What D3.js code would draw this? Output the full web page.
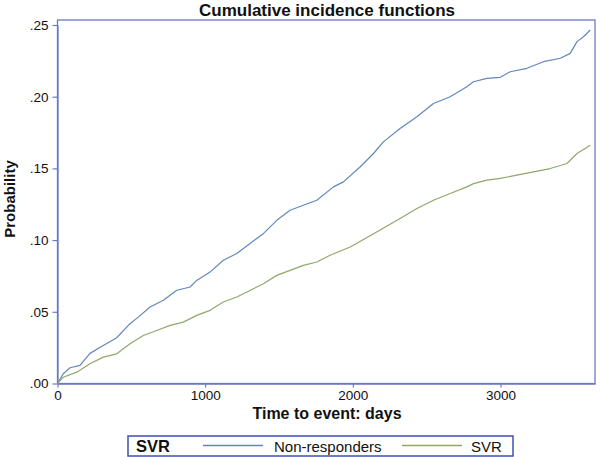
<!DOCTYPE html>
<html>
<head>
<meta charset="utf-8">
<script src="https://cdn.jsdelivr.net/npm/d3@7/dist/d3.min.js"></script>
<style>
  html, body { margin: 0; padding: 0; background: #fff; }
  svg { display: block; font-family: "Liberation Sans", Arial, sans-serif; }
</style>
</head>
<body>
<svg id="chart" width="600" height="457"></svg>
<script>
// ---- data ----
const titleText = "Cumulative incidence functions";
const xLabel = "Time to event: days";
const yLabel = "Probability";
const legendTitle = "SVR";
const seriesNames = ["Non-responders", "SVR"];
const xTicks = [0, 1000, 2000, 3000];
const yTicks = [0, 0.05, 0.10, 0.15, 0.20, 0.25];

const nonRespDays = [0, 39, 85, 152, 220, 310, 401, 491, 547, 627, 717, 808, 898, 943, 1033, 1123, 1214, 1304, 1394, 1485, 1575, 1665, 1756, 1869, 1936, 2049, 2140, 2207, 2320, 2434, 2546, 2659, 2772, 2817, 2908, 2998, 3066, 3179, 3291, 3405, 3472, 3518, 3562, 3608];
const nonRespProb = [0, 0.0068, 0.011, 0.0126, 0.021, 0.0265, 0.0319, 0.0417, 0.0463, 0.0533, 0.058, 0.065, 0.0673, 0.0719, 0.0777, 0.0859, 0.0906, 0.0976, 0.1045, 0.1138, 0.1208, 0.1243, 0.1278, 0.1371, 0.1406, 0.151, 0.1604, 0.1685, 0.1778, 0.186, 0.1953, 0.2, 0.207, 0.2104, 0.2128, 0.2135, 0.2174, 0.2198, 0.2244, 0.2268, 0.2302, 0.2384, 0.2418, 0.2465];

const svrDays = [0, 39, 130, 220, 310, 401, 491, 581, 672, 762, 852, 943, 1033, 1123, 1214, 1304, 1394, 1485, 1575, 1665, 1756, 1846, 1982, 2117, 2320, 2434, 2546, 2659, 2772, 2817, 2908, 2998, 3111, 3224, 3337, 3450, 3518, 3608];
const svrProb = [0, 0.0044, 0.0079, 0.0138, 0.0184, 0.0207, 0.0277, 0.0335, 0.037, 0.0405, 0.0428, 0.0475, 0.051, 0.0568, 0.0603, 0.0649, 0.0696, 0.0754, 0.0789, 0.0824, 0.0847, 0.0894, 0.0952, 0.103, 0.115, 0.122, 0.1278, 0.1325, 0.1371, 0.1394, 0.1418, 0.143, 0.1453, 0.1476, 0.1499, 0.1534, 0.1604, 0.1662];

// ---- styles ----
const colors = ["#6287bd", "#8fa86a"];
const frameColor = "#6c7ac0";
const legendBorder = "#3f4fb4";

const svg = d3.select("#chart");
const mLeft = 57.5, mRight = 595, mTop = 20, mBottom = 383.5;

const x = d3.scaleLinear().domain([0, 3640]).range([mLeft, mRight]);
const y = d3.scaleLinear().domain([0, 0.25]).range([mBottom, 25]);

// frame
svg.append("rect")
  .attr("x", mLeft).attr("y", mTop)
  .attr("width", mRight - mLeft).attr("height", mBottom - mTop)
  .attr("fill", "none").attr("stroke", frameColor).attr("stroke-width", 1.3);

// axes
const fmtY = d => d3.format(".2f")(d).replace(/^0/, "");
const yAxis = svg.append("g").attr("transform", `translate(${mLeft},0)`)
  .call(d3.axisLeft(y).tickValues(yTicks).tickFormat(fmtY).tickSize(5).tickSizeOuter(0).tickPadding(4));
const xAxis = svg.append("g").attr("transform", `translate(0,${mBottom})`)
  .call(d3.axisBottom(x).tickValues(xTicks).tickFormat(d3.format("d")).tickSize(4).tickSizeOuter(0).tickPadding(3));
[yAxis, xAxis].forEach(g => {
  g.select(".domain").attr("stroke", frameColor).attr("stroke-width", 1.3);
  g.selectAll(".tick line").attr("stroke", frameColor).attr("stroke-width", 1.2);
  g.selectAll(".tick text").attr("fill", "#111").attr("font-size", 13.5)
    .attr("font-family", "Liberation Sans, Arial, sans-serif");
});

// lines
const line = d3.line().x(d => x(d[0])).y(d => y(d[1])).curve(d3.curveLinear);
const series = [
  d3.zip(nonRespDays, nonRespProb),
  d3.zip(svrDays, svrProb)
];
series.forEach((s, i) => {
  svg.append("path").datum(s)
    .attr("d", line)
    .attr("fill", "none")
    .attr("stroke", colors[i])
    .attr("stroke-width", 1.2)
    .attr("stroke-linejoin", "round");
});

// title
svg.append("text").attr("x", 327).attr("y", 16)
  .attr("text-anchor", "middle").attr("font-weight", "bold").attr("font-size", 17)
  .attr("fill", "#111").text(titleText);

// x label
svg.append("text").attr("x", 327).attr("y", 419)
  .attr("text-anchor", "middle").attr("font-weight", "bold").attr("font-size", 16)
  .attr("fill", "#111").text(xLabel);

// y label
svg.append("text").attr("transform", `translate(15,199) rotate(-90)`)
  .attr("text-anchor", "middle").attr("font-weight", "bold").attr("font-size", 15)
  .attr("fill", "#111").text(yLabel);

// legend
const lg = svg.append("g");
lg.append("rect").attr("x", 128).attr("y", 436).attr("width", 385).attr("height", 20)
  .attr("fill", "#fff").attr("stroke", legendBorder).attr("stroke-width", 1.5);
lg.append("text").attr("x", 136).attr("y", 452).attr("font-weight", "bold")
  .attr("font-size", 16.5).attr("fill", "#111").text(legendTitle);
const legendItems = [
  {x1: 203, x2: 263, tx: 274},
  {x1: 402, x2: 462, tx: 471}
];
legendItems.forEach((it, i) => {
  lg.append("line").attr("x1", it.x1).attr("x2", it.x2).attr("y1", 445.5).attr("y2", 445.5)
    .attr("stroke", colors[i]).attr("stroke-width", 1.5);
  lg.append("text").attr("x", it.tx).attr("y", 452).attr("font-size", 15)
    .attr("fill", "#111").text(seriesNames[i]);
});
</script>
</body>
</html>
